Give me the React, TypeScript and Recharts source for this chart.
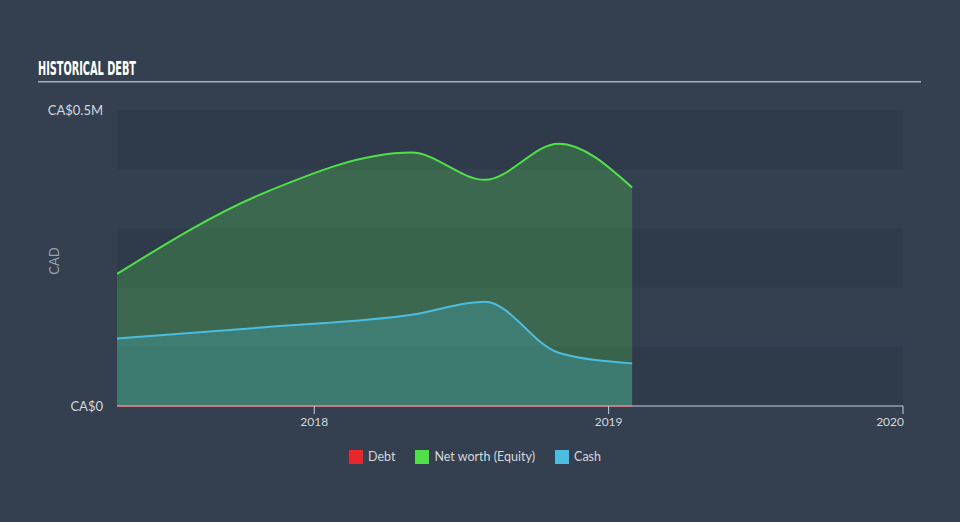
import { AreaChart, Area, XAxis, YAxis, ReferenceArea, Label } from 'recharts'

// dates as decimal years
const dates = [2017.33, 2017.83, 2018.33, 2018.58, 2018.83, 2019.08]
const debt = [0, 0, 0, 0, 0, 0]
const equity = [0.223, 0.36, 0.428, 0.382, 0.443, 0.369]
const cash = [0.114, 0.133, 0.154, 0.176, 0.09, 0.072]
const xTicks = [2018, 2019, 2020]
const yTicks = [0, 0.5]
const bands = [0, 0.1, 0.2, 0.3, 0.4, 0.5]

const legendItems = [
  { name: 'Debt', color: '#e8272a' },
  { name: 'Net worth (Equity)', color: '#52e04a' },
  { name: 'Cash', color: '#4bbde0' },
]

const bg = '#344050'
const bandDark = '#2f3b4b'
const bandLight = '#334050'
const tickColor = '#d3d7dc'

function fmtY(v: number) {
  return v === 0 ? 'CA$0' : `CA$${v}M`
}

function XTick(props: any) {
  const { x, y, payload } = props
  const last = payload.value === xTicks[xTicks.length - 1]
  return (
    <text
      x={last ? x + 1 : x}
      y={y}
      dy="0.71em"
      textAnchor={last ? 'end' : 'middle'}
      fontSize={12}
      fill={tickColor}
    >
      {payload.value}
    </text>
  )
}

export default function App() {
  const data = dates.map((t, i) => ({ t, debt: debt[i], equity: equity[i], cash: cash[i] }))

  return (
    <div
      style={{
        position: 'absolute',
        left: 0,
        top: 0,
        width: 960,
        height: 522,
        background: bg,
        fontFamily: 'Lato, sans-serif',
        overflow: 'hidden',
      }}
    >
      <svg style={{ position: 'absolute', left: 0, top: 0 }} width={960} height={90}>
        <text
          x={38}
          y={75}
          fill="#ffffff"
          fontFamily="'Liberation Sans Narrow', 'DejaVu Sans Condensed', sans-serif"
          fontWeight="bold"
          fontSize={20}
          textLength={98}
          lengthAdjust="spacingAndGlyphs"
        >
          HISTORICAL DEBT
        </text>
        <rect x={38} y={81} width={883} height={1.5} fill="#a9b0b9" />
      </svg>

      <AreaChart
        width={960}
        height={522}
        data={data}
        margin={{ top: 110, right: 57, left: 0, bottom: 86 }}
        style={{ position: 'absolute', left: 0, top: 0 }}
      >
        {bands.slice(0, -1).map((b, i) => (
          <ReferenceArea
            key={b}
            y1={b}
            y2={bands[i + 1]}
            fill={i % 2 === 0 ? bandDark : bandLight}
            fillOpacity={1}
            strokeWidth={0}
          />
        ))}
        <XAxis
          type="number"
          dataKey="t"
          domain={['dataMin', 2020]}
          ticks={xTicks}
          height={30}
          tick={<XTick />}
          tickSize={8}
          tickMargin={3}
          stroke="#c8cdd3"
          tickLine={{ stroke: '#c8cdd3' }}
          allowDataOverflow
        />
        <YAxis
          type="number"
          domain={[0, 0.5]}
          ticks={yTicks}
          width={117}
          tickFormatter={fmtY}
          tick={{ fontSize: 13, fill: tickColor }}
          axisLine={false}
          tickLine={false}
          tickSize={0}
          tickMargin={14}
        >
          <Label
            content={() => (
              <text
                x={56}
                y={261}
                transform="rotate(-90 56 261)"
                textAnchor="middle"
                dominantBaseline="middle"
                fontSize={13}
                fill="#9aa3ad"
              >
                CAD
              </text>
            )}
          />
        </YAxis>
        <Area
          type="monotone"
          dataKey="equity"
          stroke="#52e04a"
          strokeWidth={2}
          fill="#52e04a"
          fillOpacity={0.25}
          isAnimationActive={false}
          dot={false}
          activeDot={false}
        />
        <Area
          type="monotone"
          dataKey="cash"
          stroke="#4bbde0"
          strokeWidth={2}
          fill="#4bbde0"
          fillOpacity={0.25}
          isAnimationActive={false}
          dot={false}
          activeDot={false}
        />
        <Area
          type="monotone"
          dataKey="debt"
          stroke="#e8272a"
          strokeWidth={1.5}
          fill="#e8272a"
          fillOpacity={0.25}
          isAnimationActive={false}
          dot={false}
          activeDot={false}
        />
      </AreaChart>

      <div
        style={{
          position: 'absolute',
          left: 0,
          top: 449,
          width: 950,
          display: 'flex',
          justifyContent: 'center',
          fontSize: 12.5,
          color: tickColor,
        }}
      >
        {legendItems.map((it, i) => (
          <div
            key={it.name}
            style={{ display: 'flex', alignItems: 'center', marginRight: i < legendItems.length - 1 ? 20 : 0 }}
          >
            <span style={{ width: 14, height: 14, background: it.color, display: 'inline-block' }} />
            <span style={{ marginLeft: 5 }}>{it.name}</span>
          </div>
        ))}
      </div>
    </div>
  )
}
